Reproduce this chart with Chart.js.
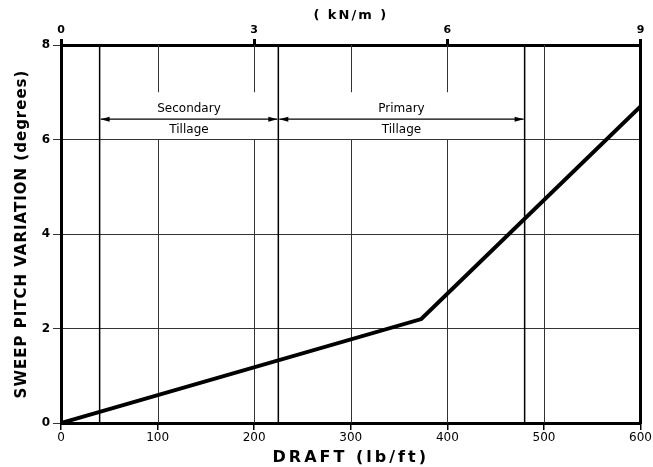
<!DOCTYPE html>
<html>
<head>
<meta charset="utf-8">
<script src="https://cdn.jsdelivr.net/npm/chart.js@4/dist/chart.umd.min.js"></script>
<style>
  html, body { margin: 0; padding: 0; background: #fff; }
  #wrap { width: 653px; height: 467px; position: relative; }
</style>
</head>
<body>
<div id="wrap"><canvas id="chart" width="653" height="467"></canvas></div>
<script>
// measured line, lb/ft vs degrees
const draftLbFt = [0, 373, 600];
const pitchDeg = [0, 2.2, 6.7];

// tillage zones (lb/ft)
const zoneBounds = [40, 225, 480];
const zoneNames = [['Secondary', 'Tillage'], ['Primary', 'Tillage']];
const zoneArrowDeg = 6.43;
const labelBandDeg = [6, 7];

const gridDraft = [100, 200, 300, 400, 500];
const kNmTicks = [0, 3, 6, 9];

const FONT = 'DejaVu Sans';

// the lettering on the original is spaced out, chart.js has no option for it
const titleSpacing = { x: 3, x2: 2, y: 1 };

const spacedTitles = {
    id: 'spacedTitles',
    afterUpdate(chart) {
        Object.values(chart.scales).forEach(s => {
            if (s._spaced) return;
            const orig = s.drawTitle.bind(s);
            s.drawTitle = function() {
                const ctx = this.ctx;
                ctx.save();
                ctx.letterSpacing = (titleSpacing[this.id] || 0) + 'px';
                orig();
                ctx.restore();
            };
            s._spaced = true;
        });
    }
};

const zonePlugin = {
    id: 'zones',
    beforeDatasetsDraw(chart) {
        const ctx = chart.ctx;
        const x = chart.scales.x;
        const y = chart.scales.y;
        const yTop = y.getPixelForValue(8);
        const yBot = y.getPixelForValue(0);
        const gapLo = y.getPixelForValue(labelBandDeg[0]);
        const gapHi = y.getPixelForValue(labelBandDeg[1]);

        ctx.save();
        // vertical grid, broken where the zone labels sit
        ctx.strokeStyle = '#333';
        ctx.lineWidth = 1;
        gridDraft.forEach(v => {
            const px = Math.round(x.getPixelForValue(v)) + 0.5;
            ctx.beginPath();
            if (v > zoneBounds[0] && v < zoneBounds[2]) {
                ctx.moveTo(px, yTop); ctx.lineTo(px, gapHi);
                ctx.moveTo(px, gapLo); ctx.lineTo(px, yBot);
            } else {
                ctx.moveTo(px, yTop); ctx.lineTo(px, yBot);
            }
            ctx.stroke();
        });

        // zone boundaries
        ctx.strokeStyle = '#000';
        ctx.lineWidth = 1.5;
        zoneBounds.forEach(v => {
            const px = x.getPixelForValue(v);
            ctx.beginPath();
            ctx.moveTo(px, yTop); ctx.lineTo(px, yBot);
            ctx.stroke();
        });

        const ay = y.getPixelForValue(zoneArrowDeg);
        ctx.lineWidth = 1.2;
        ctx.fillStyle = '#000';
        for (let i = 0; i < zoneNames.length; i++) {
            const x0 = x.getPixelForValue(zoneBounds[i]) + 1;
            const x1 = x.getPixelForValue(zoneBounds[i + 1]) - 1;
            ctx.beginPath();
            ctx.moveTo(x0, ay); ctx.lineTo(x1, ay);
            ctx.stroke();
            // arrowheads
            ctx.beginPath();
            ctx.moveTo(x0, ay); ctx.lineTo(x0 + 9, ay - 2.5); ctx.lineTo(x0 + 9, ay + 2.5);
            ctx.closePath(); ctx.fill();
            ctx.beginPath();
            ctx.moveTo(x1, ay); ctx.lineTo(x1 - 9, ay - 2.5); ctx.lineTo(x1 - 9, ay + 2.5);
            ctx.closePath(); ctx.fill();

            const cx = (x0 + x1) / 2;
            ctx.font = '12px "' + FONT + '"';
            ctx.textAlign = 'center';
            ctx.textBaseline = 'middle';
            ctx.fillText(zoneNames[i][0], cx, ay - 10);
            ctx.fillText(zoneNames[i][1], cx, ay + 11);
        }
        ctx.restore();
    }
};

new Chart(document.getElementById('chart').getContext('2d'), {
    type: 'line',
    data: {
        datasets: [{
            data: draftLbFt.map((v, i) => ({ x: v, y: pitchDeg[i] })),
            borderColor: '#000',
            borderWidth: 4,
            pointRadius: 0,
            tension: 0,
            fill: false
        }]
    },
    options: {
        responsive: false,
        animation: false,
        plugins: {
            legend: { display: false },
            tooltip: { enabled: false }
        },
        layout: { padding: 0 },
        scales: {
            x: {
                type: 'linear',
                position: 'bottom',
                min: 0, max: 600,
                afterFit: s => { s.height = 44; },
                ticks: {
                    stepSize: 100,
                    color: '#000',
                    padding: 1,
                    maxRotation: 0,
                    font: { family: FONT, size: 12 }
                },
                grid: { drawOnChartArea: false, drawTicks: true, tickLength: 7, color: '#000', lineWidth: 1.5 },
                border: { display: true, color: '#000', width: 3 },
                title: {
                    display: true,
                    text: 'DRAFT (lb/ft)',
                    color: '#000',
                    font: { family: FONT, size: 16, weight: 'bold' },
                    padding: { top: 0, bottom: 0 }
                }
            },
            x2: {
                type: 'linear',
                position: 'top',
                min: 0, max: 9,
                afterFit: s => { s.height = 45; },
                afterBuildTicks: s => { s.ticks = kNmTicks.map(v => ({ value: v })); },
                ticks: {
                    color: '#000',
                    padding: 2,
                    maxRotation: 0,
                    font: { family: FONT, size: 11, weight: 'bold' }
                },
                grid: { drawOnChartArea: false, drawTicks: true, tickLength: 6, color: '#000', lineWidth: 3 },
                border: { display: true, color: '#000', width: 3 },
                title: {
                    display: true,
                    text: '( kN/m )',
                    color: '#000',
                    font: { family: FONT, size: 13, weight: 'bold' },
                    padding: { top: 8, bottom: 0 }
                }
            },
            y: {
                type: 'linear',
                position: 'left',
                min: 0, max: 8,
                afterFit: s => { s.width = 61; },
                ticks: {
                    stepSize: 2,
                    color: '#000',
                    padding: 3,
                    font: { family: FONT, size: 12, weight: 'bold' }
                },
                grid: { drawOnChartArea: true, drawTicks: true, tickLength: 8, color: '#333', lineWidth: 1 },
                border: { display: true, color: '#000', width: 3 },
                title: {
                    display: true,
                    text: 'SWEEP PITCH VARIATION (degrees)',
                    color: '#000',
                    font: { family: FONT, size: 15, weight: 'bold' },
                    padding: { top: 13, bottom: 0 }
                }
            },
            yR: {
                type: 'linear',
                position: 'right',
                min: 0, max: 8,
                afterFit: s => { s.width = 11; },
                ticks: { display: false },
                grid: { drawOnChartArea: false, drawTicks: false },
                border: { display: true, color: '#000', width: 3 }
            }
        }
    },
    plugins: [spacedTitles, zonePlugin]
});
</script>
</body>
</html>
